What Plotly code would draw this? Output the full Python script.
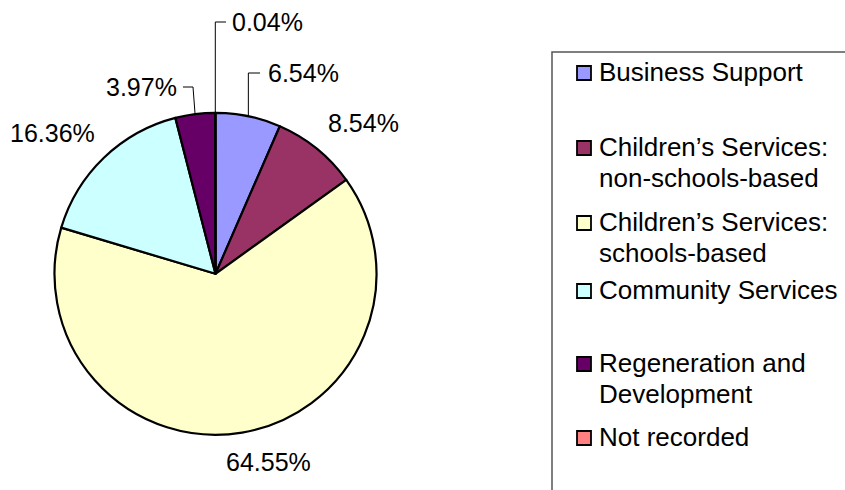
import math
import plotly.graph_objects as go

# Share of records by service area
categories = [
    "Business Support",
    "Children\u2019s Services: non-schools-based",
    "Children\u2019s Services: schools-based",
    "Community Services",
    "Regeneration and Development",
    "Not recorded",
]
legend_lines = [
    ["Business Support"],
    ["Children\u2019s Services:", "non-schools-based"],
    ["Children\u2019s Services:", "schools-based"],
    ["Community Services"],
    ["Regeneration and", "Development"],
    ["Not recorded"],
]
shares = [6.54, 8.54, 64.55, 16.36, 3.97, 0.04]
colors = ["#9999FF", "#993366", "#FFFFCC", "#CCFFFF", "#660066", "#FF8080"]

W, H = 845, 490
CX, CY, R = 215.5, 273.8, 161.0


def px(x):
    return x / W


def py(y):
    return 1 - y / H


FONT = "Arial, 'Liberation Sans', sans-serif"

fig = go.Figure(
    go.Pie(
        labels=categories,
        values=shares,
        sort=False,
        direction="clockwise",
        rotation=0,
        marker=dict(colors=colors, line=dict(color="black", width=2.2)),
        textinfo="none",
        hoverinfo="label+percent",
        showlegend=False,
        domain=dict(x=[px(CX - R), px(CX + R)], y=[py(CY + R), py(CY - R)]),
    )
)

# Label placement for each slice: (x px, y px, xanchor, leader)
# leader: None or (elbow_x or None for a vertical drop, end_x)
label_layout = [
    (266, 73, "left", (None, 260)),
    (326, 123, "left", None),
    (268, 462, "center", None),
    (97, 133, "right", None),
    (179, 87, "right", (193, 183)),
    (230, 22, "left", (None, 226)),
]

annotations = []
shapes = []
total = sum(shares)
cum = 0.0
for val, (lx, ly, anchor, leader) in zip(shares, label_layout):
    mid = (cum + val / 2) / total * 2 * math.pi
    cum += val
    annotations.append(dict(
        x=px(lx), y=py(ly), xref="paper", yref="paper",
        text=f"{val:.2f}%", showarrow=False,
        xanchor=anchor, yanchor="middle",
        font=dict(family=FONT, size=25, color="black"),
    ))
    if leader is not None:
        ex = CX + R * math.sin(mid)
        ey = CY - R * math.cos(mid)
        elbow_x, end_x = leader
        if elbow_x is None:
            elbow_x = ex
        path = (f"M {px(ex)} {py(ey)} L {px(elbow_x)} {py(ly)} "
                f"L {px(end_x)} {py(ly)}")
        shapes.append(dict(type="path", xref="paper", yref="paper",
                           path=path, line=dict(color="black", width=1)))

# Legend box
shapes.append(dict(type="rect", xref="paper", yref="paper",
                   x0=px(552), x1=px(W + 20), y0=py(H + 20), y1=py(52),
                   line=dict(color="#555555", width=1.5),
                   fillcolor="rgba(0,0,0,0)"))

legend_rows = [72, 147, 222, 290, 363, 437]
LINE_GAP = 31
for lines, color, row_y in zip(legend_lines, colors, legend_rows):
    shapes.append(dict(type="rect", xref="paper", yref="paper",
                       x0=px(577), x1=px(591), y0=py(row_y + 8), y1=py(row_y - 6),
                       fillcolor=color, line=dict(color="black", width=1.8)))
    for i, line in enumerate(lines):
        annotations.append(dict(
            x=px(597), y=py(row_y + i * LINE_GAP), xref="paper", yref="paper",
            text=line, showarrow=False, xanchor="left", yanchor="middle",
            font=dict(family=FONT, size=26, color="black"),
        ))

fig.update_layout(
    width=W, height=H,
    margin=dict(l=0, r=0, t=0, b=0),
    paper_bgcolor="white",
    plot_bgcolor="white",
    annotations=annotations,
    shapes=shapes,
)

fig.write_html("out.html")
